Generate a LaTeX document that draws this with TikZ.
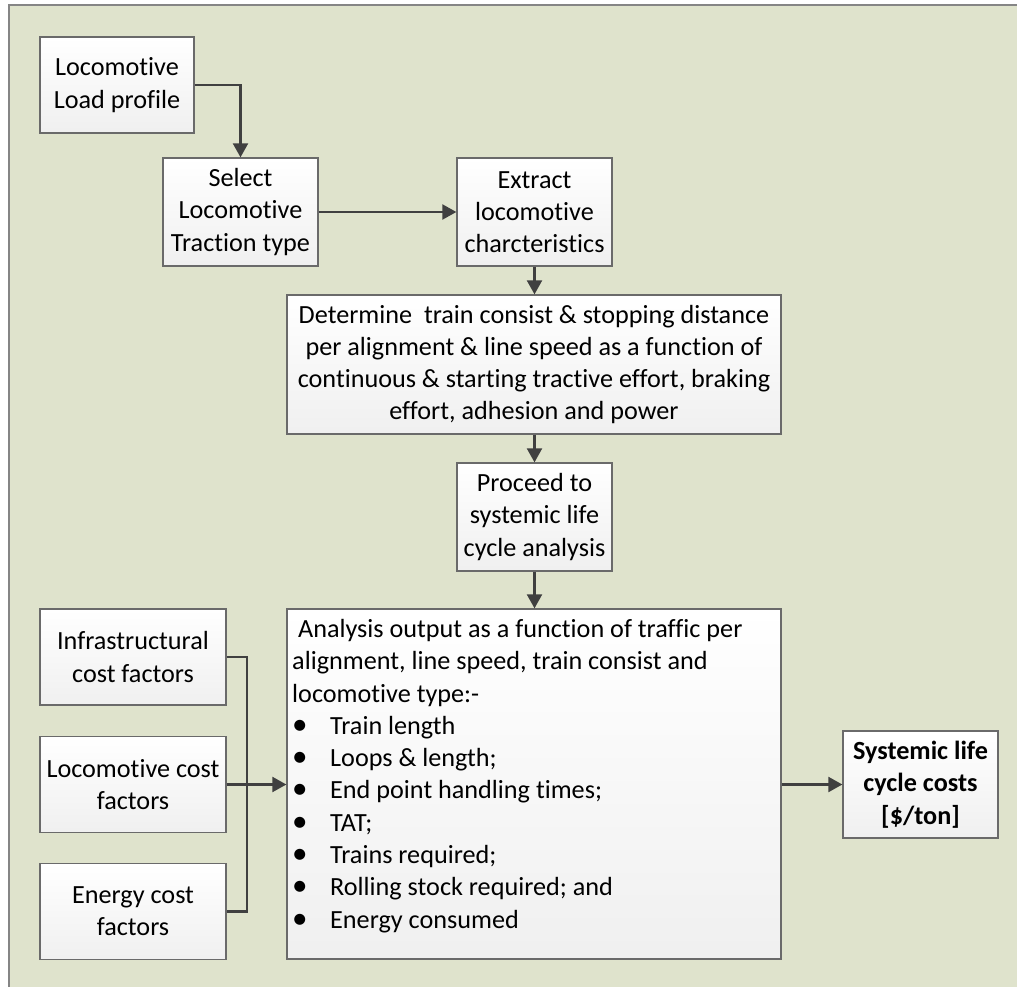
\documentclass[tikz,border=0pt]{standalone}
\usepackage{fontspec}
\setmainfont[Ligatures=NoCommon]{Carlito}
\usetikzlibrary{arrows.meta,calc}
\definecolor{panelbg}{HTML}{DFE3CC}
\definecolor{panelrule}{HTML}{858585}
\definecolor{boxrule}{HTML}{6A6A6A}
\definecolor{linkgray}{HTML}{404040}
\newcommand{\bul}{\makebox[38pt][l]{\smash{\fontsize{31}{32}\selectfont\textbullet}}}
\newcommand{\bodyfont}{\fontsize{26.2}{32.3}\selectfont}

\begin{document}
\begin{tikzpicture}[x=1pt,y=-1pt,
  box/.style={draw=boxrule,line width=1.3pt,top color=white,bottom color=black!6,
    inner sep=2pt,align=center,font=\bodyfont},
  smallbox/.style={box,minimum width=155pt,minimum height=108pt},
  costbox/.style={box,minimum width=186pt,minimum height=96pt},
  link/.style={draw=linkgray,line width=2.2pt},
  arr/.style={link,-{Triangle[length=14pt,width=15pt]}}]

\useasboundingbox (0,0) rectangle (1017,987);

%% ---------------- background panel ----------------
\fill[panelbg] (9,5) rectangle (1017,987);
\draw[panelrule,line width=2pt] (9,987) -- (9,5) -- (1017,5);

%% ---------------- upper chain ----------------
\node[box,minimum width=154pt,minimum height=96pt] (loadprof) at (117,85) {Locomotive\\Load profile};
\node[smallbox] (tracsel) at (240.5,212) {Select\\Locomotive\\Traction type};
\node[smallbox] (locchar) at (534.5,212) {Extract\\locomotive\\charcteristics};
\node[box,minimum width=494pt,minimum height=139pt] (consist) at (534,364.5)
  {Determine\ \ train consist \& stopping distance\\per alignment \& line speed as a function of\\continuous \& starting tractive effort, braking\\effort, adhesion and power};
\node[smallbox] (proceed) at (534.5,517) {Proceed to\\systemic life\\cycle analysis};

%% ---------------- analysis output ----------------
\node[box,minimum width=494pt,minimum height=350pt] (analysis) at (534,784) {};
\node[anchor=north west,inner sep=0pt,align=left,font=\bodyfont] (anltext) at (292,619)
  {\ Analysis output as a function of traffic per\\
   alignment, line speed, train consist and\\
   locomotive type:-\\
   \bul Train length\\
   \bul Loops \& length;\\
   \bul End point handling times;\\
   \bul TAT;\\
   \bul Trains required;\\
   \bul Rolling stock required; and\\
   \bul Energy consumed};

%% ---------------- cost factors ----------------
\node[costbox] (infra) at (133,657) {Infrastructural\\cost factors};
\node[costbox] (loccost) at (133,784.5) {Locomotive cost\\factors};
\node[costbox] (energy) at (133,911.5) {Energy cost\\factors};
\coordinate (bus) at (247,784.5);

\node[smallbox,minimum height=107pt,font=\bodyfont\bfseries] (lcc) at (920.5,784.5)
  {Systemic life\\cycle costs\\{[\$/ton]}};

%% ---------------- connectors ----------------
\draw[arr] (loadprof.east) -| (tracsel.north);
\draw[arr] (tracsel.east) -- (locchar.west);
\draw[arr] (locchar.south) -- (consist.north -| locchar.south);
\draw[arr] (consist.south -| proceed.north) -- (proceed.north);
\draw[arr] (proceed.south) -- (analysis.north -| proceed.south);
\draw[link] (infra.east) -| (bus) |- (energy.east);
\draw[arr] (loccost.east) -- (analysis.west |- loccost.east);
\draw[arr] (analysis.east |- lcc.west) -- (lcc.west);

\end{tikzpicture}
\end{document}
